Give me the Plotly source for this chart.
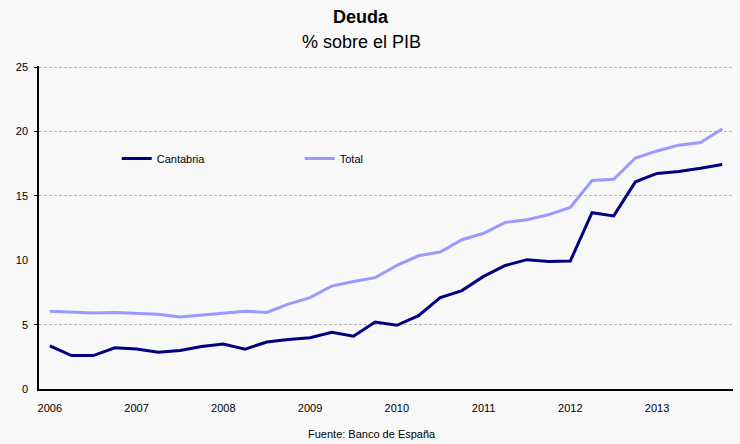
import plotly.graph_objects as go

quarters = list(range(32))
year_ticks = [0, 4, 8, 12, 16, 20, 24, 28]
year_labels = ["2006", "2007", "2008", "2009", "2010", "2011", "2012", "2013"]

cantabria = [3.35, 2.6, 2.6, 3.2, 3.1, 2.85, 3.0, 3.3,
             3.5, 3.1, 3.65, 3.85, 3.98, 4.4, 4.1, 5.2,
             4.95, 5.7, 7.1, 7.65, 8.75, 9.6, 10.05, 9.9,
             9.95, 13.7, 13.45, 16.1, 16.75, 16.9, 17.15, 17.45]
total = [6.05, 5.95, 5.9, 5.95, 5.9, 5.8, 5.6, 5.75,
         5.9, 6.05, 5.95, 6.6, 7.1, 8.0, 8.35, 8.65,
         9.6, 10.35, 10.65, 11.6, 12.1, 12.95, 13.15, 13.55,
         14.1, 16.2, 16.3, 17.95, 18.5, 18.95, 19.15, 20.2]
y_ticks = [0, 5, 10, 15, 20, 25]
grid_vals = [5, 15, 20, 25]

FONT = "Liberation Sans, Arial, sans-serif"
W, H = 740, 444
ML, MR, MT, MB = 39, 7, 66, 55
plot_w = W - ML - MR
plot_h = H - MT - MB


def px(pix):
    return (pix - ML) / plot_w


def py(pix):
    return (H - MB - pix) / plot_h


fig = go.Figure()
fig.add_trace(go.Scatter(x=quarters, y=cantabria, name="Cantabria", mode="lines",
                         line=dict(color="#000080", width=3)))
fig.add_trace(go.Scatter(x=quarters, y=total, name="Total", mode="lines",
                         line=dict(color="#9999ff", width=3)))
# invisible trace to activate the grid axis
fig.add_trace(go.Scatter(x=[quarters[0]], y=[0], yaxis="y2", showlegend=False,
                         mode="markers", marker=dict(opacity=0), hoverinfo="skip"))

fig.update_layout(
    width=W, height=H,
    margin=dict(l=ML, r=MR, t=MT, b=MB),
    paper_bgcolor="#f8f8f8", plot_bgcolor="#f8f8f8",
    font=dict(family=FONT, color="black", size=11),
    showlegend=True,
    legend=dict(orientation="h", x=0.112, y=0.714, xanchor="left", yanchor="middle",
                bgcolor="rgba(0,0,0,0)", entrywidth=138, entrywidthmode="pixels",
                font=dict(size=11, family=FONT), itemwidth=30),
    xaxis=dict(range=[-0.5, 31.5], tickvals=year_ticks, ticktext=year_labels,
               showgrid=False, zeroline=False, showline=True, linecolor="black",
               linewidth=1.5, ticks="", tickfont=dict(size=11, family=FONT),
               ticklabelstandoff=8),
    yaxis=dict(range=[0, 25.1], tickvals=y_ticks, showgrid=False, zeroline=False,
               showline=True, linecolor="black", linewidth=1.5, ticks="",
               tickfont=dict(size=11, family=FONT), ticklabelstandoff=7),
    yaxis2=dict(range=[0, 25.1], overlaying="y", side="left", tickvals=grid_vals,
                showticklabels=False, showgrid=True, gridcolor="#b8b8b8",
                griddash="3px,2px", gridwidth=1, ticks="outside", ticklen=4,
                tickcolor="black", zeroline=False, showline=False),
)

fig.add_annotation(text="<b>Deuda</b>", x=px(361), y=py(17), xref="paper", yref="paper",
                   xanchor="center", yanchor="middle", showarrow=False,
                   font=dict(size=18, family=FONT))
fig.add_annotation(text="% sobre el PIB", x=px(361), y=py(42), xref="paper", yref="paper",
                   xanchor="center", yanchor="middle", showarrow=False,
                   font=dict(size=18, family=FONT))
fig.add_annotation(text="Fuente: Banco de España", x=px(372), y=py(434), xref="paper",
                   yref="paper", xanchor="center", yanchor="middle", showarrow=False,
                   font=dict(size=11, family=FONT))

fig.write_html("out.html", config={"displayModeBar": False},
               post_script="document.body.style.margin='0';")
